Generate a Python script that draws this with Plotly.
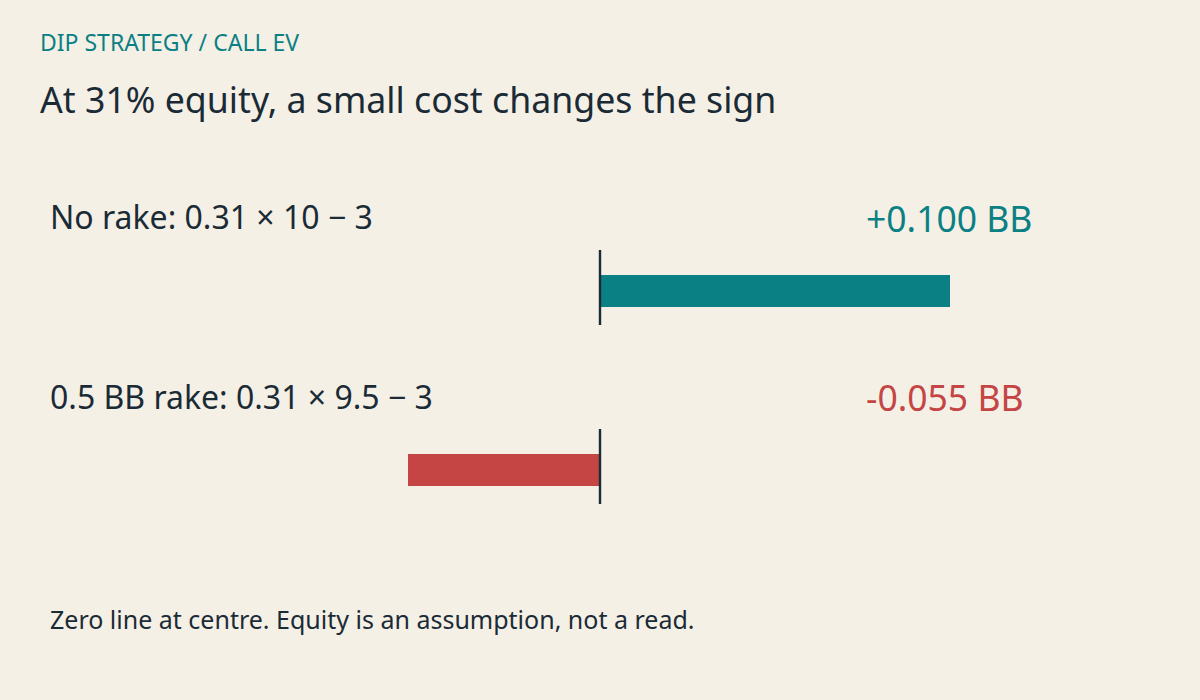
import plotly.graph_objects as go

# ---- data ----
row_labels = ["No rake: 0.31 × 10 − 3", "0.5 BB rake: 0.31 × 9.5 − 3"]
ev_values = [0.100, -0.055]
kicker = "DIP STRATEGY / CALL EV"
title = "At 31% equity, a small cost changes the sign"
footnote = "Zero line at centre. Equity is an assumption, not a read."

# ---- style ----
BG = "#f5f0e6"
INK = "#1b2b36"
TEAL = "#0a8084"
RED = "#c44543"
FONT = "Segoe UI, Noto Sans, Open Sans, sans-serif"

W, H = 1200, 700
px_per_unit = 3500.0
half = (W / 2) / px_per_unit


def px_x(p):
    """convert a horizontal pixel position to x-axis units"""
    return (p - W / 2) / px_per_unit


row_center = [291, 470]      # layout positions (pixels from top)
label_y = [216, 396]
value_y = [218, 397]

colors = [TEAL if v >= 0 else RED for v in ev_values]

fig = go.Figure()
fig.add_trace(go.Bar(
    x=ev_values, y=row_center, orientation="h", width=32,
    marker=dict(color=colors, line=dict(width=0)),
    hoverinfo="skip", showlegend=False,
))

for i, v in enumerate(ev_values):
    fig.add_shape(type="line", xref="x", yref="y", x0=0, x1=0,
                  y0=row_center[i] - 41, y1=row_center[i] + 34,
                  line=dict(color=INK, width=2.4))
    fig.add_annotation(x=px_x(48), xref="x", y=label_y[i], yref="y",
                       text=row_labels[i], showarrow=False, xanchor="left", yanchor="middle",
                       font=dict(family=FONT, size=32, color=INK))
    fig.add_annotation(x=px_x(864), xref="x", y=value_y[i], yref="y",
                       text=f"{v:+.3f} BB", showarrow=False, xanchor="left", yanchor="middle",
                       font=dict(family=FONT, size=35.5, color=colors[i]))

fig.add_annotation(x=px_x(38), xref="x", y=42, yref="y", text=kicker,
                   showarrow=False, xanchor="left", yanchor="middle",
                   font=dict(family=FONT, size=23, color=TEAL))
fig.add_annotation(x=px_x(38), xref="x", y=99, yref="y", text=title,
                   showarrow=False, xanchor="left", yanchor="middle",
                   font=dict(family=FONT, size=35.7, color=INK))
fig.add_annotation(x=px_x(48), xref="x", y=619, yref="y", text=footnote,
                   showarrow=False, xanchor="left", yanchor="middle",
                   font=dict(family=FONT, size=25, color=INK))

fig.update_layout(
    width=W, height=H,
    margin=dict(l=0, r=0, t=0, b=0),
    paper_bgcolor=BG, plot_bgcolor=BG,
    xaxis=dict(range=[-half, half], visible=False, fixedrange=True),
    yaxis=dict(range=[H, 0], visible=False, fixedrange=True),
    bargap=0,
)

fig.write_html(
    "out.html",
    config={"displayModeBar": False},
    post_script="document.body.style.margin='0';document.body.style.background='" + BG + "';",
)
